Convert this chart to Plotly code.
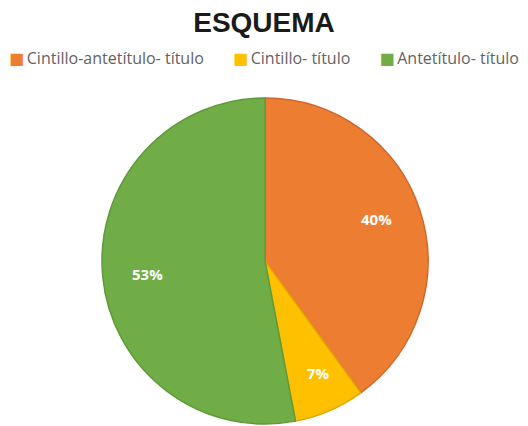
import math
import plotly.graph_objects as go

# Share of headline structures
labels = ["Cintillo-antetítulo- título", "Cintillo- título", "Antetítulo- título"]
values = [40, 7, 53]
fill_colors = ["#ED7D31", "#FFC000", "#70AD47"]
edge_colors = ["#D0672A", "#E3A800", "#5F9A3A"]

W, H = 528, 426
cx, cy, r = 265, 261, 163
label_radius = 0.83  # fraction of the pie radius where percentages sit

fig = go.Figure(
    go.Pie(
        labels=labels,
        values=values,
        sort=False,
        direction="clockwise",
        rotation=0,
        marker=dict(colors=fill_colors, line=dict(color=edge_colors, width=1.5)),
        textinfo="none",
        hoverinfo="label+percent",
        showlegend=False,
        domain=dict(x=[(cx - r) / W, (cx + r) / W], y=[1 - (cy + r) / H, 1 - (cy - r) / H]),
    )
)

# Percentage labels placed along each slice's bisector
total = sum(values)
start = 0.0
for v in values:
    mid = (start + v / 2) / total * 2 * math.pi
    start += v
    px = cx + label_radius * r * math.sin(mid)
    py = cy - label_radius * r * math.cos(mid)
    fig.add_annotation(
        x=px / W,
        y=1 - py / H,
        xref="paper",
        yref="paper",
        text=f"{round(100 * v / total)}%",
        showarrow=False,
        font=dict(family="Open Sans", size=15, color="white", weight="bold"),
    )

# Single-line legend: coloured square followed by the category name
gap = "&nbsp;" * 7
legend_text = gap.join(
    f'<span style="color:{c}; font-family:DejaVu Sans">■</span>&#8201;{lab}'
    for c, lab in zip(fill_colors, labels)
)
fig.add_annotation(
    x=0.5,
    y=1 - 58 / H,
    xref="paper",
    yref="paper",
    xanchor="center",
    yanchor="middle",
    text=legend_text,
    showarrow=False,
    font=dict(family="Open Sans", size=16, color="#636363"),
)

fig.update_layout(
    width=W,
    height=H,
    margin=dict(l=0, r=0, t=0, b=0),
    paper_bgcolor="white",
    showlegend=False,
    title=dict(
        text="<b>ESQUEMA</b>",
        x=0.5,
        xanchor="center",
        y=1 - 22 / H,
        yanchor="middle",
        font=dict(family="Liberation Sans", size=28, color="#1a1a1a"),
    ),
)

fig.write_html("out.html")
